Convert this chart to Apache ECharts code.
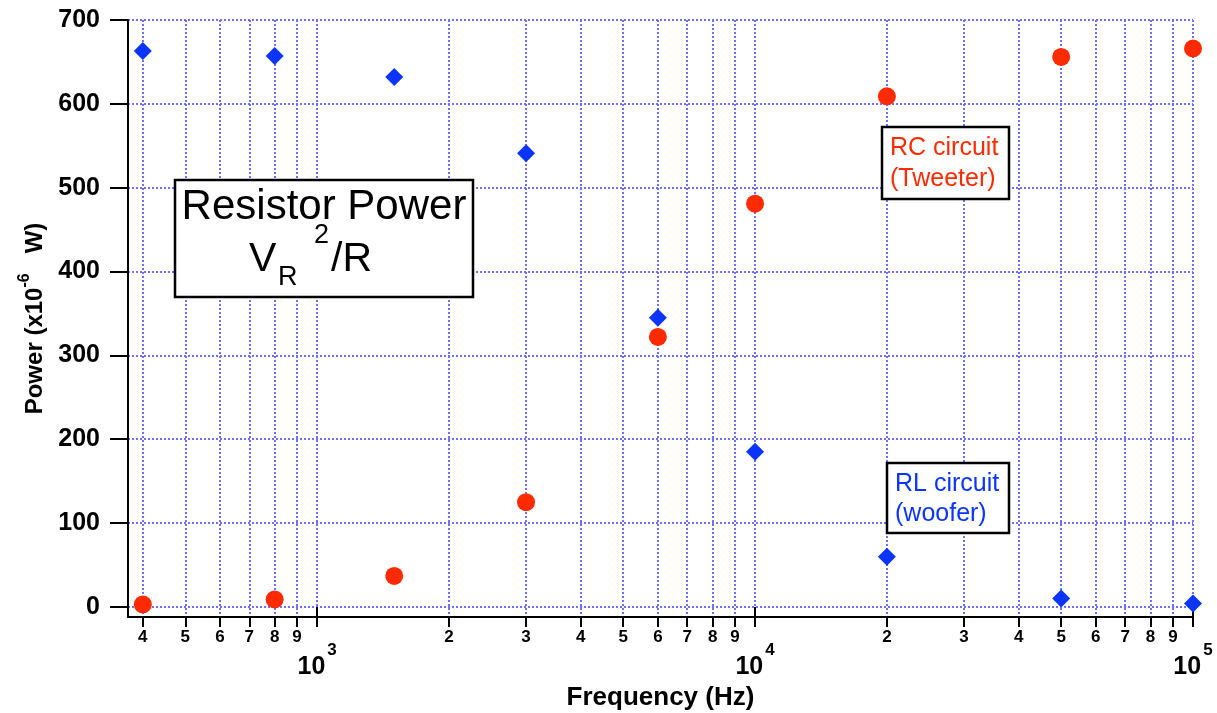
<!DOCTYPE html>
<html>
<head>
<meta charset="utf-8">
<script src="https://cdn.jsdelivr.net/npm/echarts@6/dist/echarts.min.js"></script>
<style>
html,body{margin:0;padding:0;background:#fff;}
#chart{width:1217px;height:713px;}
</style>
</head>
<body>
<div id="chart"></div>
<script>
// ---- data ----
const frequencies = [400, 800, 1500, 3000, 6000, 10000, 20000, 50000, 100000];
const rlPower = [663, 657, 632, 541, 345, 185, 60, 10, 4];   // RL circuit (woofer)
const rcPower = [3, 9, 37, 125, 322, 481, 609, 656, 666];     // RC circuit (tweeter)
const minorTicks = [400, 500, 600, 700, 800, 900,
  2000, 3000, 4000, 5000, 6000, 7000, 8000, 9000,
  20000, 30000, 40000, 50000, 60000, 70000, 80000, 90000];
const decadeTicks = [1000, 10000, 100000];
const yTicks = [0, 100, 200, 300, 400, 500, 600, 700];

const FONT = "'Liberation Sans', Arial, Helvetica, sans-serif";
const GRID = {color: '#7070ff', width: 2, type: [2, 2]};
const BLUE = '#0b35ff';
const RED = '#ff2a00';

function lead(v) {
  const e = Math.floor(Math.log10(v) + 1e-9);
  return String(Math.round(v / Math.pow(10, e)));
}

const chart = echarts.init(document.getElementById('chart'));
chart.setOption({
  animation: false,
  backgroundColor: '#fff',
  grid: {left: 128, right: 24, top: 20, bottom: 96, containLabel: false, outerBoundsMode: 'none'},
  xAxis: [{
    type: 'log', logBase: 10, min: 370, max: 100000, position: 'bottom',
    name: 'Frequency (Hz)', nameLocation: 'middle', nameGap: 68,
    nameTextStyle: {fontFamily: FONT, fontSize: 26, fontWeight: 'bold', color: '#000'},
    axisLine: {show: true, onZero: false, lineStyle: {color: '#000', width: 2}},
    axisTick: {show: true, customValues: minorTicks, length: 10, lineStyle: {color: '#000', width: 2}},
    axisLabel: {show: true, customValues: minorTicks, formatter: v => lead(v), margin: 12,
      fontFamily: FONT, fontSize: 17, fontWeight: 'bold', color: '#000'},
    splitLine: {show: true, lineStyle: GRID},
    minorTick: {show: false}
  }, {
    type: 'log', logBase: 10, min: 370, max: 100000, position: 'bottom', offset: 0,
    axisLine: {show: false},
    axisTick: {show: true, customValues: decadeTicks, length: 20, lineStyle: {color: '#000', width: 2}},
    axisLabel: {show: true, customValues: decadeTicks, margin: 25,
      formatter: v => '{b|10}{s|' + Math.round(Math.log10(v)) + '}',
      rich: {
        b: {fontFamily: FONT, fontSize: 25, fontWeight: 'bold', color: '#000', lineHeight: 26, verticalAlign: 'bottom'},
        s: {fontFamily: FONT, fontSize: 17, fontWeight: 'bold', color: '#000', lineHeight: 38, verticalAlign: 'top', padding: [0, 0, 0, 2]}
      }},
    splitLine: {show: true, lineStyle: GRID}
  }],
  yAxis: {
    type: 'value', min: -12, max: 700,
    name: '{a|Power (x10}{s|-6}{a|   W)}', nameLocation: 'middle', nameGap: 80, nameRotate: 90,
    nameTextStyle: {
      rich: {
        a: {fontFamily: FONT, fontSize: 24, fontWeight: 'bold', color: '#000', lineHeight: 24, verticalAlign: 'bottom'},
        s: {fontFamily: FONT, fontSize: 16, fontWeight: 'bold', color: '#000', lineHeight: 31, verticalAlign: 'top'}
      }
    },
    axisLine: {show: true, lineStyle: {color: '#000', width: 2}},
    axisTick: {show: true, customValues: yTicks, length: 18, lineStyle: {color: '#000', width: 2}},
    axisLabel: {show: true, customValues: yTicks, margin: 28,
      fontFamily: FONT, fontSize: 25, fontWeight: 'bold', color: '#000'},
    splitLine: {show: true, lineStyle: GRID}
  },
  series: [{
    name: 'RL circuit (woofer)', type: 'scatter', xAxisIndex: 0,
    symbol: 'diamond', symbolSize: [18, 18],
    itemStyle: {color: BLUE, opacity: 1},
    data: frequencies.map((f, i) => [f, rlPower[i]]),
    z: 5
  }, {
    name: 'RC circuit (Tweeter)', type: 'scatter', xAxisIndex: 0,
    symbol: 'circle', symbolSize: 18,
    itemStyle: {color: RED, opacity: 1},
    data: frequencies.map((f, i) => [f, rcPower[i]]),
    z: 6
  }],
  graphic: [
    {type: 'rect', shape: {x: 175, y: 180, width: 298, height: 117},
      style: {fill: '#fff', stroke: '#000', lineWidth: 2.5}, z: 100},
    {type: 'text', z: 101, style: {text: 'Resistor Power', x: 324, y: 207, textAlign: 'center', textVerticalAlign: 'middle',
      font: "42px " + FONT, fill: '#000'}},
    {type: 'text', z: 101, style: {text: 'V', x: 249, y: 260, textAlign: 'left', textVerticalAlign: 'middle',
      font: "41px " + FONT, fill: '#000'}},
    {type: 'text', z: 101, style: {text: 'R', x: 278, y: 278, textAlign: 'left', textVerticalAlign: 'middle',
      font: "27px " + FONT, fill: '#000'}},
    {type: 'text', z: 101, style: {text: '2', x: 314, y: 236, textAlign: 'left', textVerticalAlign: 'middle',
      font: "27px " + FONT, fill: '#000'}},
    {type: 'text', z: 101, style: {text: '/R', x: 331, y: 260, textAlign: 'left', textVerticalAlign: 'middle',
      font: "41px " + FONT, fill: '#000'}},

    {type: 'rect', shape: {x: 882, y: 127, width: 127, height: 72},
      style: {fill: '#fff', stroke: '#000', lineWidth: 2.5}, z: 100},
    {type: 'text', z: 101, style: {text: 'RC circuit\n(Tweeter)', x: 890, y: 164, textAlign: 'left', textVerticalAlign: 'middle',
      font: "25px " + FONT, lineHeight: 31, fill: RED}},

    {type: 'rect', shape: {x: 887, y: 463, width: 122, height: 70},
      style: {fill: '#fff', stroke: '#000', lineWidth: 2.5}, z: 100},
    {type: 'text', z: 101, style: {text: 'RL circuit\n(woofer)', x: 895, y: 499, textAlign: 'left', textVerticalAlign: 'middle',
      font: "25px " + FONT, lineHeight: 30, fill: BLUE}}
  ]
});
</script>
</body>
</html>
